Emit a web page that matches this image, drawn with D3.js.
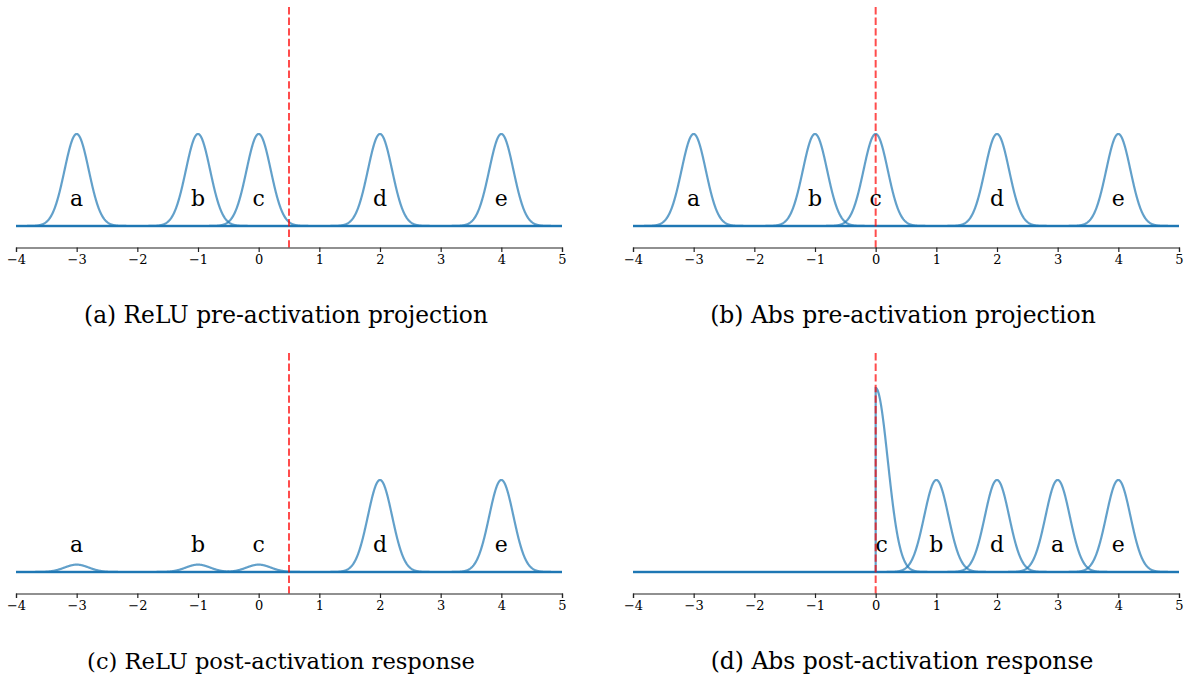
<!DOCTYPE html>
<html><head><meta charset="utf-8">
<script src="https://cdn.jsdelivr.net/npm/d3@7"></script>
<style>body{margin:0;background:#fff}svg{display:block}</style>
</head><body>
<svg id="chart" width="1191" height="679"></svg>
<script>
// ---- data ----
const xTicks = [-4,-3,-2,-1,0,1,2,3,4,5];
const letters = ["a","b","c","d","e"];
const sigma = 0.2;
// panel a/b: pre-activation projections
const preCenters = [-3,-1,0,2,4];
const preAmps = [1,1,1,1,1];
// panel c: ReLU post-activation
const reluPostAmps = [0.08,0.08,0.08,1,1];
// panel d: Abs post-activation (c folded at 0 -> half gaussian, doubled)
const absPostCenters = [3,1,0,2,4];
const absPostAmps = [1,1,2,1,1];
const absPostHalf = [false,false,true,false,false];
const absLabelX = [3,1,0.1,2,4];
const thresholds = [0.5,0,0.5,0];
const captions = ["(a) ReLU pre-activation projection","(b) Abs pre-activation projection",
                  "(c) ReLU post-activation response","(d) Abs post-activation response"];

const noHalf = [false,false,false,false,false];
const panels = [
  {centers:preCenters, amps:preAmps, half:noHalf, labelX:preCenters},
  {centers:preCenters, amps:preAmps, half:noHalf, labelX:preCenters},
  {centers:preCenters, amps:reluPostAmps, half:noHalf, labelX:preCenters},
  {centers:absPostCenters, amps:absPostAmps, half:absPostHalf, labelX:absLabelX}
];

const svg = d3.select("#chart");
const left = [16, 633], width = 546;
const axisY = [247.5, 593.5];
const serif = "DejaVu Serif, serif";
const capBox = [[286,404],[903,386],[281,388],[902,383]]; // layout: centre, width

panels.forEach((p, i) => {
  const col = i % 2, row = Math.floor(i / 2);
  const x = d3.scaleLinear().domain([-4,5]).range([left[col], left[col]+width]);
  const bottom = axisY[row];
  const y = d3.scaleLinear().domain([-0.2337, 2.38]).range([bottom, bottom-240.5]);
  const g = svg.append("g");

  const xs = d3.range(-4, 5.0001, 0.005);
  p.centers.forEach((c, k) => {
    const pts = [];
    xs.forEach(v => {
      let val = p.amps[k] * Math.exp(-((v-c)**2)/(2*sigma*sigma));
      if (p.half[k] && v < 0) val = 0;
      pts.push([v, val]);
    });
    if (p.half[k]) {
      const idx = pts.findIndex(q => q[0] >= 0);
      pts.splice(idx, 0, [0, 0]);
    }
    g.append("path")
      .attr("d", d3.line().x(d => x(d[0])).y(d => y(d[1]))(pts))
      .attr("fill","none").attr("stroke","#1f77b4").attr("stroke-opacity",0.7)
      .attr("stroke-width",2.2);
  });
  // baseline at zero
  g.append("line").attr("x1", x(-4)).attr("x2", x(5)).attr("y1", y(0)).attr("y2", y(0))
    .attr("stroke","#1f77b4").attr("stroke-opacity",0.85).attr("stroke-width",2.6);

  // threshold line
  g.append("line")
    .attr("x1", x(thresholds[i])).attr("x2", x(thresholds[i]))
    .attr("y1", y.range()[1]).attr("y2", bottom)
    .attr("stroke","red").attr("stroke-opacity",0.7).attr("stroke-width",2)
    .attr("stroke-dasharray","7.4,3.2");

  // labels
  letters.forEach((L, k) => {
    g.append("text").attr("x", x(p.labelX[k])).attr("y", y(0.215))
      .attr("text-anchor","middle").attr("font-family", serif).attr("font-size", 22)
      .attr("fill","#000").text(L);
  });

  // axis
  const ax = g.append("g").attr("transform", `translate(0,${bottom})`)
    .call(d3.axisBottom(x).tickValues(xTicks).tickSize(4.5).tickPadding(3)
      .tickFormat(d => d < 0 ? "\u2212" + Math.abs(d) : String(d)));
  ax.select(".domain").attr("stroke","#222").attr("stroke-width",1.2);
  ax.selectAll(".tick line").attr("stroke","#222").attr("stroke-width",1.2);
  ax.selectAll(".tick text").attr("font-family", serif).attr("font-size", 13).attr("fill","#000");

  // caption
  const t = g.append("text").attr("x", capBox[i][0]).attr("y", bottom + 75.5)
    .attr("text-anchor","middle").attr("font-family", serif).attr("font-size", 20)
    .attr("fill","#000").text(captions[i]);
  const w = t.node().getComputedTextLength();
  t.attr("font-size", 20 * capBox[i][1] / w);
});
</script>
</body></html>
